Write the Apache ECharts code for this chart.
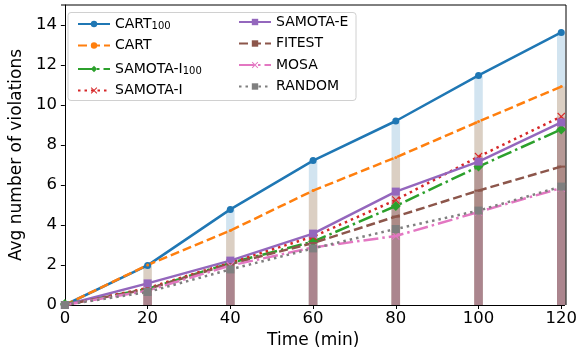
<!DOCTYPE html>
<html>
<head>
<meta charset="utf-8">
<script src="https://cdn.jsdelivr.net/npm/echarts@6/dist/echarts.min.js"></script>
<style>
  html, body { margin: 0; padding: 0; background: #fff; }
  #chart { width: 580px; height: 355px; }
</style>
</head>
<body>
<div id="chart"></div>
<script>
const times = [0, 20, 40, 60, 80, 100, 120];
const xTicks = [0, 20, 40, 60, 80, 100, 120];
const yTicks = [0, 2, 4, 6, 8, 10, 12, 14];

const cart100 = [0, 1.98, 4.78, 7.22, 9.2, 11.48, 13.63];
const cart = [0, 2.0, 3.72, 5.72, 7.38, 9.17, 10.92];
const samotaI100 = [0.05, 0.8, 2.1, 3.17, 4.95, 6.92, 8.78];
const samotaI = [0, 0.85, 2.12, 3.42, 5.25, 7.42, 9.42];
const samotaE = [0, 1.08, 2.22, 3.57, 5.67, 7.17, 9.13];
const fitest = [0, 0.8, 2.05, 3.1, 4.42, 5.72, 6.92];
const mosa = [0, 0.72, 1.97, 2.88, 3.45, 4.65, 5.85];
const random = [0, 0.65, 1.78, 2.83, 3.8, 4.72, 5.92];

const FONT = 'DejaVu Sans';
const X_SYMBOL = 'path://M0,1L1,0L5,4L9,0L10,1L6,5L10,9L9,10L5,6L1,10L0,9L4,5Z';
const DASH_SYMBOL = 'path://M0,0H10V2H0Z';

// name, values, colour, dash, marker, marker size
const defs = [
  ['CART100', cart100, '#1f77b4', 'solid', 'circle', 7],
  ['CART', cart, '#ff7f0e', [9, 4], 'circle', 3],
  ['SAMOTA-I100', samotaI100, '#2ca02c', [15, 4, 2.5, 4], 'diamond', 10],
  ['SAMOTA-I', samotaI, '#d62728', [2.5, 4], X_SYMBOL, 8],
  ['SAMOTA-E', samotaE, '#9467bd', 'solid', 'rect', 8],
  ['FITEST', fitest, '#8c564b', [9, 4], DASH_SYMBOL, [8, 2]],
  ['MOSA', mosa, '#e377c2', [15, 4, 2.5, 4], X_SYMBOL, 8],
  ['RANDOM', random, '#7f7f7f', [2.5, 4], 'rect', 8],
];

const pairs = (vals) => times.map((t, i) => [t, vals[i]]);

const lineSeries = defs.map(([name, vals, color, dash, sym, size]) => ({
  name: name,
  type: 'line',
  data: pairs(vals),
  color: color,
  symbol: sym,
  symbolSize: size,
  showAllSymbol: true,
  z: 3,
  lineStyle: { width: 2.5, type: dash, cap: 'butt', color: color },
  itemStyle: { color: color },
  emphasis: { disabled: true },
  animation: false,
}));

const barSeries = defs.map(([name, vals, color]) => ({
  name: name + ' bar',
  type: 'bar',
  data: pairs(vals),
  barWidth: 8.5,
  barGap: '-100%',
  z: 1,
  itemStyle: { color: color, opacity: 0.2 },
  emphasis: { disabled: true },
  animation: false,
}));

const legendText = {
  fontFamily: FONT,
  fontSize: 14,
  lineHeight: 14,
  color: '#000',
  rich: {
    sub: { fontFamily: FONT, fontSize: 10, lineHeight: 14, verticalAlign: 'bottom', padding: [6, 0, 0, 0] },
  },
};
const fmt = (name) => name.replace(/100$/, '{sub|100}');

const legendBase = {
  orient: 'vertical',
  top: 10,
  itemWidth: 32,
  itemHeight: 8,
  itemGap: 7.5,
  z: 4,
  selectedMode: false,
  formatter: fmt,
  textStyle: legendText,
};

const option = {
  animation: false,
  backgroundColor: '#fff',
  grid: { left: 61, right: 14, top: 5, bottom: 50, containLabel: false },
  xAxis: {
    type: 'value',
    min: -0.72,
    max: 120.8,
    name: 'Time (min)',
    nameLocation: 'middle',
    nameGap: 26,
    nameTextStyle: { fontFamily: FONT, fontSize: 17, color: '#000' },
    axisLine: { show: true, lineStyle: { color: '#000', width: 1 } },
    axisTick: { show: true, length: 4, customValues: xTicks, lineStyle: { color: '#000' } },
    axisLabel: { customValues: xTicks, fontFamily: FONT, fontSize: 16.5, color: '#000', margin: 5 },
    splitLine: { show: false },
  },
  yAxis: {
    type: 'value',
    min: 0,
    max: 15,
    name: 'Avg number of violations',
    nameLocation: 'middle',
    nameGap: 33,
    nameTextStyle: { fontFamily: FONT, fontSize: 17, color: '#000' },
    axisLine: { show: true, lineStyle: { color: '#000', width: 1 } },
    axisTick: { show: true, length: 4, customValues: yTicks, lineStyle: { color: '#000' } },
    axisLabel: { customValues: yTicks, fontFamily: FONT, fontSize: 16.5, color: '#000', margin: 5 },
    splitLine: { show: false },
  },
  graphic: [
    {
      type: 'rect',
      z: 3,
      shape: { x: 68, y: 12.5, width: 288, height: 88, r: 3 },
      style: { fill: 'rgba(255,255,255,0.8)', stroke: '#d0d0d0', lineWidth: 1 },
    },
    {
      // right and top spines
      type: 'polyline',
      z: 3,
      shape: { points: [[61, 5], [566, 5], [566, 305]] },
      style: { stroke: '#000', lineWidth: 1, fill: null },
    },
  ],
  legend: [
    Object.assign({}, legendBase, {
      data: ['CART100', 'CART', 'SAMOTA-I100', 'SAMOTA-I'],
      left: 72,
    }),
    Object.assign({}, legendBase, {
      data: ['SAMOTA-E', 'FITEST', 'MOSA', 'RANDOM'],
      left: 233,
    }),
  ],
  series: [...barSeries, ...lineSeries],
};

const chart = echarts.init(document.getElementById('chart'), null, { renderer: 'canvas' });
chart.setOption(option);
</script>
</body>
</html>
